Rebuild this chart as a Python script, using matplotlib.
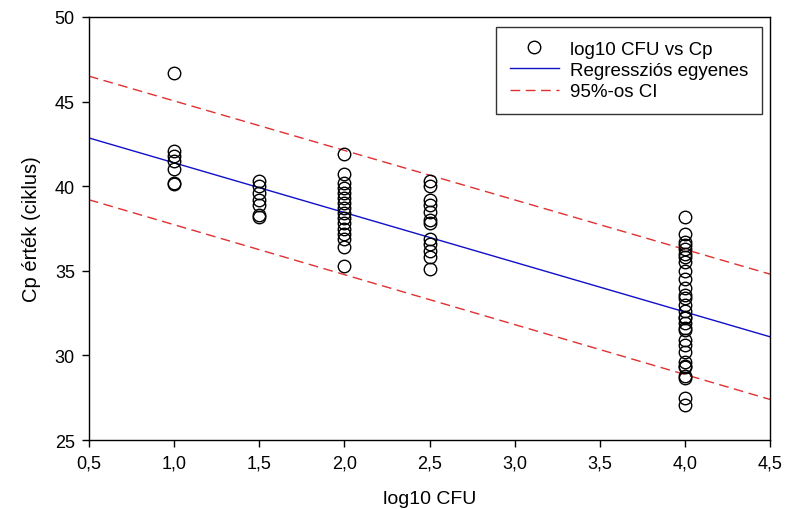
import numpy as np
import matplotlib
matplotlib.use('Agg')
import matplotlib.pyplot as plt
from matplotlib.ticker import FuncFormatter

plt.rcParams['font.family'] = ['Liberation Sans', 'DejaVu Sans']

# mért pontok (log10 CFU -> Cp)
cp_10 = [46.7, 42.1, 41.8, 41.5, 41.0, 40.2, 40.1]
cp_15 = [40.3, 40.0, 39.6, 39.2, 38.9, 38.3, 38.2]
cp_20 = [41.9, 40.7, 40.2, 39.9, 39.6, 39.3, 39.0, 38.7, 38.4, 38.1,
         37.8, 37.5, 37.2, 36.9, 36.4, 35.3]
cp_25 = [40.3, 40.0, 39.2, 38.9, 38.5, 38.0, 37.8, 36.9, 36.6, 36.2,
         35.8, 35.1]
cp_40 = [38.2, 37.2, 36.7, 36.5, 36.3, 36.0, 35.8, 35.5, 35.0, 34.5,
         34.0, 33.6, 33.4, 33.0, 32.6, 32.3, 32.2, 31.9, 31.6, 31.5,
         30.9, 30.6, 30.2, 29.6, 29.4, 29.3, 28.8, 28.7, 27.5, 27.1]
groups = [(1.0, cp_10), (1.5, cp_15), (2.0, cp_20), (2.5, cp_25), (4.0, cp_40)]

# regresszios egyenes es 95%-os CI vegpontjai
line_x = [0.5, 4.5]
reg_y = [42.85, 31.1]
ci_upper = [46.5, 34.8]
ci_lower = [39.2, 27.4]

xticks = [0.5, 1.0, 1.5, 2.0, 2.5, 3.0, 3.5, 4.0, 4.5]
yticks = [25, 30, 35, 40, 45, 50]

fig = plt.figure(figsize=(7.86, 5.10), dpi=100)
ax = fig.add_axes([0.113, 0.135, 0.867, 0.83])

xs = np.concatenate([[x] * len(v) for x, v in groups])
ys = np.concatenate([v for x, v in groups])
ax.plot(xs, ys, 'o', mfc='none', mec='black', ms=9, mew=1.0,
        label='log10 CFU vs Cp', zorder=3)
ax.plot(line_x, reg_y, color='#1010c8', lw=1.0, label='Regressziós egyenes')
ax.plot(line_x, ci_upper, color='#e03030', lw=1.0, dashes=(7, 4),
        label='95%-os CI')
ax.plot(line_x, ci_lower, color='#e03030', lw=1.0, dashes=(7, 4))

ax.set_xlim(0.5, 4.5)
ax.set_ylim(25, 50)
ax.set_xticks(xticks)
ax.set_yticks(yticks)
ax.xaxis.set_major_formatter(FuncFormatter(lambda v, p: ('%.1f' % v).replace('.', ',')))
ax.tick_params(direction='out', length=5, labelsize=13, width=1, pad=5)
for s in ax.spines.values():
    s.set_linewidth(1.0)

ax.set_xlabel('log10 CFU', fontsize=14, labelpad=14)
ax.set_ylabel('Cp érték (ciklus)', fontsize=14.5, labelpad=10)

leg = ax.legend(loc='upper right', bbox_to_anchor=(0.988, 0.977), fontsize=13.5,
                frameon=True, fancybox=False, edgecolor='black',
                handlelength=2.6, handletextpad=0.6, borderpad=0.75,
                labelspacing=0.22, borderaxespad=0)
leg.get_frame().set_linewidth(1.0)

fig.savefig('out.png', dpi=100)
